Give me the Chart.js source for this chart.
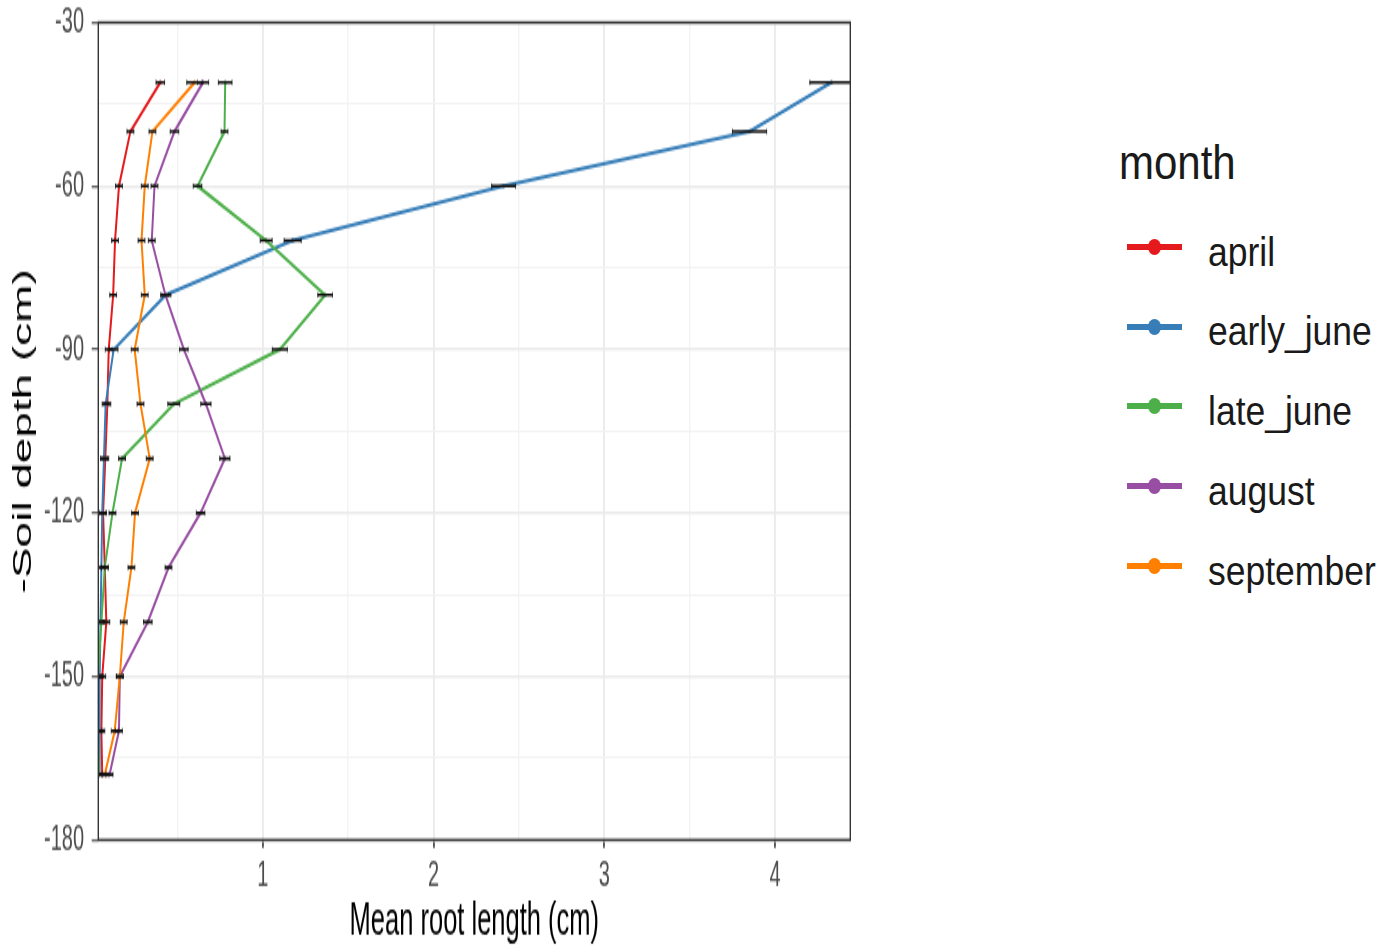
<!DOCTYPE html>
<html>
<head>
<meta charset="utf-8">
<script src="https://cdn.jsdelivr.net/npm/chart.js@4.4.1/dist/chart.umd.min.js"></script>
<style>
    html, body { margin: 0; padding: 0; background: #fff; }
    body { width: 1391px; height: 949px; position: relative; overflow: hidden; font-family: "Liberation Sans", Arial, sans-serif; }
    /* the reference is stretched vertically: draw small, then scale */
    #plot { position: absolute; left: 0; top: 0; width: 870px; height: 527px; transform-origin: 0 0; transform: scaleY(1.8008); }
    .lg-text { position: absolute; white-space: nowrap; line-height: 1; color: #1a1a1a; transform: scaleY(1.16); transform-origin: 0 84.65%; }
    .lg-key { position: absolute; width: 55px; height: 6px; }
    .lg-dot { position: absolute; left: 21px; top: -5px; width: 13px; height: 16px; border-radius: 50%; }
</style>
</head>
<body>
<div id="plot"><canvas id="chart" width="870" height="527"></canvas></div>
<div id="legend"></div>
<script>
// ─── Данные ─────────────────────────────────────────────────────────────────

const depths = [-41, -50, -60, -70, -80, -90, -100, -110, -120, -130, -140, -150, -160, -168];

const months = ["april", "early_june", "late_june", "august", "september"];

const april      = [0.40, 0.225, 0.158, 0.135, 0.124, 0.098, 0.090, 0.078, 0.065, 0.075, 0.084, 0.060, 0.055, 0.060];
const early_june = [4.33, 3.85, 2.41, 1.175, 0.432, 0.127, 0.080, 0.070, 0.060, 0.055, 0.050, 0.045, 0.045, 0.045];
const late_june  = [0.78, 0.776, 0.618, 1.02, 1.365, 1.10, 0.479, 0.176, 0.120, 0.075, 0.055, 0.035, 0.035, 0.040];
const august     = [0.65, 0.483, 0.366, 0.350, 0.430, 0.538, 0.667, 0.778, 0.636, 0.448, 0.327, 0.163, 0.158, 0.103];
const september  = [0.60, 0.354, 0.309, 0.290, 0.309, 0.250, 0.284, 0.338, 0.252, 0.231, 0.186, 0.163, 0.133, 0.075];

// полуширина error bar (± по x)
const aprilErr      = [0.025, 0.02, 0.02, 0.02, 0.02, 0.02, 0.02, 0.02, 0.02, 0.02, 0.02, 0.02, 0.02, 0.02];
const early_juneErr = [0.127, 0.10, 0.07, 0.05, 0.03, 0.025, 0.02, 0.02, 0.02, 0.02, 0.02, 0.02, 0.02, 0.02];
const late_juneErr  = [0.04, 0.02, 0.025, 0.035, 0.043, 0.044, 0.035, 0.02, 0.02, 0.02, 0.02, 0.02, 0.02, 0.02];
const augustErr     = [0.033, 0.025, 0.02, 0.02, 0.02, 0.025, 0.03, 0.03, 0.025, 0.02, 0.025, 0.02, 0.02, 0.02];
const septemberErr  = [0.045, 0.02, 0.02, 0.02, 0.02, 0.02, 0.02, 0.02, 0.02, 0.02, 0.02, 0.02, 0.02, 0.02];

const xTicks = [0.5, 1, 1.5, 2, 2.5, 3, 3.5, 4];
const xTickLabels = [1, 2, 3, 4];
const yTicks = [-180, -165, -150, -135, -120, -105, -90, -75, -60, -45, -30];
const yTickLabels = [-180, -150, -120, -90, -60, -30];

// ─── Стили ──────────────────────────────────────────────────────────────────

const colors = ["#E41A1C", "#377EB8", "#4DAF4A", "#984EA3", "#FF7F00"];
const seriesValues = [april, early_june, late_june, august, september];
const seriesErrors = [aprilErr, early_juneErr, late_juneErr, augustErr, septemberErr];

const isMajorX = (v) => xTickLabels.includes(v);
const isMajorY = (v) => yTickLabels.includes(v);

// ─── Error bars + рамка панели ──────────────────────────────────────────────

const errorBars = {
    id: "errorBars",
    afterDatasetsDraw(chart) {
        const {ctx, chartArea, scales: {x, y}} = chart;
        ctx.save();
        ctx.beginPath();
        ctx.rect(chartArea.left, chartArea.top, chartArea.width, chartArea.height);
        ctx.clip();
        ctx.strokeStyle = "#111";
        chart.data.datasets.forEach((ds) => {
            ds.data.forEach((p, i) => {
                const err = ds.errX[i];
                const x1 = x.getPixelForValue(p.x - err);
                const x2 = x.getPixelForValue(p.x + err);
                const py = y.getPixelForValue(p.y);
                ctx.lineWidth = 1.6;
                ctx.beginPath();
                ctx.moveTo(x1, py);
                ctx.lineTo(x2, py);
                ctx.stroke();
                ctx.lineWidth = 0.9;
                ctx.beginPath();
                ctx.moveTo(x1, py - 1.4);
                ctx.lineTo(x1, py + 1.4);
                ctx.moveTo(x2, py - 1.4);
                ctx.lineTo(x2, py + 1.4);
                ctx.stroke();
            });
        });
        ctx.restore();
    },
};

const panelBorder = {
    id: "panelBorder",
    afterDraw(chart) {
        const {ctx, chartArea: a} = chart;
        ctx.save();
        ctx.strokeStyle = "#333333";
        ctx.lineWidth = 1.4;
        ctx.strokeRect(a.left, a.top, a.width, a.height);
        ctx.restore();
    },
};

// ─── График ─────────────────────────────────────────────────────────────────

const tickFont = {family: "'Liberation Sans', Arial, sans-serif", size: 20};
const titleFont = {family: "'Liberation Sans', Arial, sans-serif", size: 25.5};

new Chart(document.getElementById("chart"), {
    type: "scatter",
    data: {
        datasets: months.map((m, k) => ({
            label: m,
            data: depths.map((d, i) => ({x: seriesValues[k][i], y: d})),
            errX: seriesErrors[k],
            showLine: true,
            borderColor: colors[k],
            backgroundColor: colors[k],
            borderWidth: 2,
            pointRadius: 1.3,
            pointBorderWidth: 0,
            order: months.length - k,
        })),
    },
    options: {
        responsive: false,
        animation: false,
        devicePixelRatio: 1,
        events: [],
        layout: {padding: {top: 12.5, right: 19.7, bottom: 0, left: 0}},
        plugins: {legend: {display: false}, tooltip: {enabled: false}},
        scales: {
            x: {
                type: "linear",
                min: 0.037,
                max: 4.44,
                afterBuildTicks: (s) => { s.ticks = xTicks.map((v) => ({value: v})); },
                afterFit: (s) => { s.height = 60.6; s.paddingLeft = 0; s.paddingRight = 0; },
                ticks: {
                    font: tickFont,
                    color: "#4D4D4D",
                    padding: 3.6,
                    maxRotation: 0,
                    callback: (v) => (isMajorX(v) ? String(v) : ""),
                },
                grid: {
                    color: (c) => (isMajorX(c.tick.value) ? "#EBEBEB" : "#F3F3F3"),
                    lineWidth: (c) => (isMajorX(c.tick.value) ? 1.9 : 1.4),
                    tickLength: 4.4,
                    tickColor: (c) => (isMajorX(c.tick.value) ? "#333333" : "rgba(0,0,0,0)"),
                    tickWidth: 1.6,
                },
                border: {display: false},
                title: {
                    display: true,
                    text: "Mean root length (cm)",
                    font: titleFont,
                    color: "#000",
                    padding: {top: 0, bottom: 0},
                },
            },
            y: {
                type: "linear",
                min: -180,
                max: -30,
                afterBuildTicks: (s) => { s.ticks = yTicks.map((v) => ({value: v})); },
                afterFit: (s) => { s.width = 98.3; s.paddingTop = 0; s.paddingBottom = 0; },
                ticks: {
                    font: tickFont,
                    color: "#4D4D4D",
                    padding: 7.7,
                    callback: (v) => (isMajorY(v) ? String(v) : ""),
                },
                grid: {
                    color: (c) => (isMajorY(c.tick.value) ? "#EBEBEB" : "#F3F3F3"),
                    lineWidth: (c) => (isMajorY(c.tick.value) ? 1.5 : 1.1),
                    tickLength: 6.6,
                    tickColor: (c) => (isMajorY(c.tick.value) ? "#333333" : "rgba(0,0,0,0)"),
                    tickWidth: 1,
                },
                border: {display: false},
                title: {
                    display: true,
                    text: "-Soil depth (cm)",
                    font: titleFont,
                    color: "#000",
                    padding: {top: 9, bottom: 0},
                },
            },
        },
    },
    plugins: [errorBars, panelBorder],
});

// ─── Легенда (HTML, справа) ─────────────────────────────────────────────────

const legend = document.getElementById("legend");

function addText(text, left, baseline, size) {
    const el = document.createElement("div");
    el.className = "lg-text";
    el.textContent = text;
    el.style.fontSize = size + "px";
    el.style.left = left + "px";
    el.style.top = (baseline - 0.8465 * size) + "px";
    legend.appendChild(el);
}

addText("month", 1119, 180, 42);

const keyY = [246.7, 326.5, 406.3, 486.1, 565.9];
months.forEach((m, k) => {
    const key = document.createElement("div");
    key.className = "lg-key";
    key.style.left = "1127px";
    key.style.top = (keyY[k] - 3) + "px";
    key.style.background = colors[k];
    const dot = document.createElement("div");
    dot.className = "lg-dot";
    dot.style.background = colors[k];
    key.appendChild(dot);
    legend.appendChild(key);
    addText(m, 1208, keyY[k] + 20, 35.5);
});
</script>
</body>
</html>
